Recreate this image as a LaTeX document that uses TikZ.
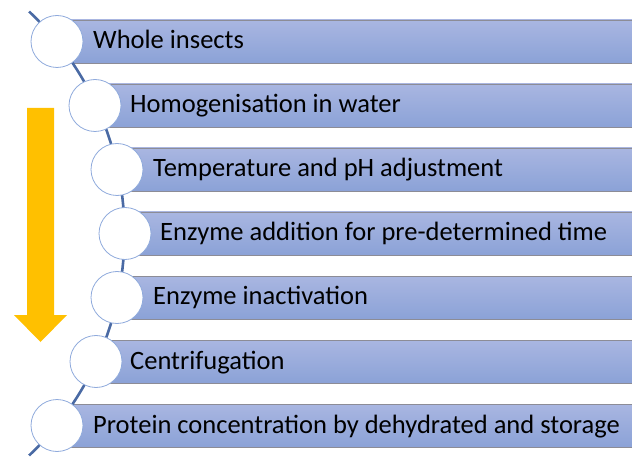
\documentclass[tikz,border=0pt]{standalone}
\usepackage{fontspec}
\setmainfont{Carlito}
\definecolor{bartop}{HTML}{A9B6E1}
\definecolor{barbot}{HTML}{8BA2D7}
\definecolor{baredge}{HTML}{8C8C96}
\definecolor{linecol}{HTML}{4A6AA4}
\definecolor{circedge}{HTML}{8FAADC}
\definecolor{arrowyel}{HTML}{FFC000}
\begin{document}
\begin{tikzpicture}[x=1pt,y=-1pt,
  barbox/.style={draw=baredge, line width=0.8pt, top color=bartop, bottom color=barbot,
    minimum height=43pt, inner sep=0pt, anchor=west, rectangle},
  stepcirc/.style={circle, fill=white, draw=circedge, line width=0.8pt, minimum size=52pt, inner sep=0pt},
  steptext/.style={anchor=base west, inner sep=0pt, font=\fontsize{26.5}{31}\selectfont, text=black},
  flowline/.style={draw=linecol, line width=2.6pt}]
\useasboundingbox (0,0) rectangle (632,457);
% bars
\node[barbox, minimum width=575pt] (b1) at (57,41.5) {};
\node[barbox, minimum width=537pt] (b2) at (95,105.5) {};
\node[barbox, minimum width=515pt] (b3) at (117,169.5) {};
\node[barbox, minimum width=507pt] (b4) at (125,233.5) {};
\node[barbox, minimum width=515pt] (b5) at (117,297.5) {};
\node[barbox, minimum width=536pt] (b6) at (96,361.5) {};
\node[barbox, minimum width=575pt] (b7) at (57,425.5) {};
% curved guide line
\draw[flowline] plot[domain=-46.5:46.5, samples=80] ({-181.5+306*cos(\x)}, {233.5+306*sin(\x)});
% circles
\node[stepcirc] (c1) at (57,41.5) {};
\node[stepcirc] (c2) at (95,105.5) {};
\node[stepcirc] (c3) at (117,169.5) {};
\node[stepcirc] (c4) at (125,233.5) {};
\node[stepcirc] (c5) at (117,297.5) {};
\node[stepcirc] (c6) at (96,361.5) {};
\node[stepcirc] (c7) at (57,425.5) {};
% texts
\node[steptext] (t1) at (93,49) {Whole insects};
\node[steptext] (t2) at (130,113) {Homogenisation in water};
\node[steptext] (t3) at (153,177) {Temperature and pH adjustment};
\node[steptext] (t4) at (160,241) {Enzyme addition for pre-determined time};
\node[steptext] (t5) at (153,305) {Enzyme inactivation};
\node[steptext] (t6) at (130,369) {Centrifugation};
\node[steptext] (t7) at (93,433) {Protein concentration by dehydrated and storage};
% yellow arrow
\fill[arrowyel] (27,108) -- (54,108) -- (54,315) -- (67,315) -- (40.5,342) -- (14,315) -- (27,315) -- cycle;
\end{tikzpicture}
\end{document}
